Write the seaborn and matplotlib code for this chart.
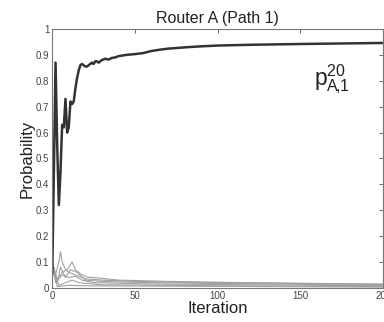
import matplotlib
matplotlib.use("Agg")
import matplotlib.pyplot as plt
import seaborn as sns
import pandas as pd

title = "Router A (Path 1)"
x_label = "Iteration"
y_label = "Probability"
x_ticks = [0, 50, 100, 150, 200]
y_ticks = [0, 0.1, 0.2, 0.3, 0.4, 0.5, 0.6, 0.7, 0.8, 0.9, 1]
y_tick_labels = ["0", "0.1", "0.2", "0.3", "0.4", "0.5", "0.6", "0.7", "0.8", "0.9", "1"]

main_iter = [0, 1, 2, 3, 4, 5, 6, 7, 8, 9, 10, 11, 12, 13, 14, 15, 16, 17, 18, 19, 20,
             21, 22, 23, 24, 25, 26, 27, 28, 30, 32, 34, 36, 38, 40, 45, 50, 55, 60, 65,
             70, 80, 90, 100, 120, 150, 175, 200]
main_prob = [0.05, 0.45, 0.87, 0.55, 0.32, 0.45, 0.63, 0.62, 0.73, 0.60, 0.62, 0.72, 0.71,
             0.72, 0.77, 0.81, 0.84, 0.86, 0.865, 0.86, 0.855, 0.855, 0.86, 0.865, 0.87,
             0.865, 0.875, 0.875, 0.87, 0.88, 0.885, 0.882, 0.888, 0.89, 0.895, 0.90, 0.903,
             0.907, 0.915, 0.92, 0.924, 0.929, 0.933, 0.936, 0.939, 0.942, 0.944, 0.946]

g1_iter = [0, 2, 4, 5, 6, 8, 10, 14, 20, 30, 50, 100, 200]
g1_prob = [0.10, 0.05, 0.10, 0.14, 0.10, 0.07, 0.06, 0.05, 0.035, 0.03, 0.025, 0.02, 0.015]
g2_iter = [0, 3, 6, 9, 12, 14, 18, 21, 25, 40, 70, 120, 200]
g2_prob = [0.10, 0.03, 0.06, 0.07, 0.10, 0.07, 0.05, 0.042, 0.04, 0.03, 0.025, 0.02, 0.013]
g3_iter = [0, 3, 5, 8, 11, 15, 20, 30, 60, 200]
g3_prob = [0.10, 0.02, 0.08, 0.04, 0.07, 0.06, 0.03, 0.025, 0.02, 0.01]
g4_iter = [0, 2, 6, 10, 14, 18, 25, 60, 200]
g4_prob = [0.10, 0.02, 0.05, 0.04, 0.045, 0.03, 0.02, 0.015, 0.008]
g5_iter = [0, 4, 8, 12, 16, 30, 100, 200]
g5_prob = [0.10, 0.01, 0.02, 0.03, 0.02, 0.012, 0.008, 0.005]
g6_iter = [0, 3, 10, 20, 200]
g6_prob = [0.10, 0.005, 0.01, 0.008, 0.003]

gray_series = [(g1_iter, g1_prob), (g2_iter, g2_prob), (g3_iter, g3_prob),
               (g4_iter, g4_prob), (g5_iter, g5_prob), (g6_iter, g6_prob)]

sns.set_style("white")
plt.rcParams["font.family"] = ["Liberation Sans", "DejaVu Sans"]

fig = plt.figure(figsize=(3.84, 3.22), dpi=100)
ax = fig.add_axes([0.136, 0.106, 0.862, 0.804])

for i, (xs, ys) in enumerate(gray_series):
    df = pd.DataFrame({"it": xs, "p": ys})
    sns.lineplot(data=df, x="it", y="p", ax=ax, color="#a0a0a0", linewidth=0.8)

dfm = pd.DataFrame({"it": main_iter, "p": main_prob})
sns.lineplot(data=dfm, x="it", y="p", ax=ax, color="#333333", linewidth=1.8)

ax.set_xlim(0, 200)
ax.set_ylim(0, 1)
ax.set_xticks(x_ticks)
ax.set_yticks(y_ticks)
ax.set_yticklabels(y_tick_labels)
ax.tick_params(direction="in", length=3, width=0.6, labelsize=7, colors="#555555",
               top=True, right=True, labelcolor="#444444", pad=2)
for s in ax.spines.values():
    s.set_color("#777777")
    s.set_linewidth(0.8)
ax.set_title(title, fontsize=11.5, pad=4, color="#222222")
ax.set_xlabel(x_label, fontsize=12, labelpad=0, color="#222222")
ax.set_ylabel(y_label, fontsize=12, labelpad=1, color="#222222")
ax.text(0.845, 0.805, r"$\mathregular{p^{20}_{A\!,\!1}}$", transform=ax.transAxes,
        fontsize=16.5, ha="center", va="center", color="#222222")

fig.savefig("out.png", dpi=100)
